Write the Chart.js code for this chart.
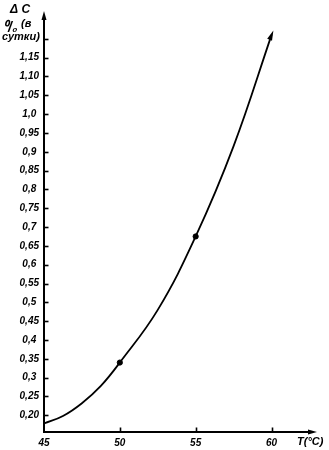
<!DOCTYPE html>
<html>
<head>
<meta charset="utf-8">
<script src="https://cdn.jsdelivr.net/npm/chart.js@4"></script>
<style>
html,body{margin:0;padding:0;background:#fff;}
canvas{display:block;}
</style>
</head>
<body>
<canvas id="c" width="329" height="450"></canvas>
<script>
// Data
const curveT = [45, 46.25, 47.5, 48.75, 50, 52.5, 55, 57.5, 60];
const curveDC = [0.178, 0.198, 0.232, 0.278, 0.34, 0.48, 0.675, 0.915, 1.21];
const markerT = [50, 55];
const markerDC = [0.34, 0.675];
const xTicks = [45, 50, 55, 60];
const xTickLabels = ["45", "50", "55", "60"];
const yTicks = [0.20,0.25,0.30,0.35,0.40,0.45,0.50,0.55,0.60,0.65,0.70,0.75,0.80,0.85,0.90,0.95,1.00,1.05,1.10,1.15,1.20];
const yTickLabels = ["0,20","0,25","0,3","0,35","0,4","0,45","0,5","0,55","0,6","0,65","0,7","0,75","0,8","0,85","0,9","0,95","1,0","1,05","1,10","1,15",""];
const yTitleLines = ["\u0394 C", "\u2070/\u2080 (\u0432", "\u0441\u0443\u0442\u043a\u0438)"];
const xTitle = "T(\u00b0C)";

const FAM = "'Liberation Sans', Arial, sans-serif";

const axesPlugin = {
  id: 'axesPlugin',
  afterDraw(chart) {
    const ctx = chart.ctx;
    const xs = chart.scales.x, ys = chart.scales.y;
    const x0 = xs.left, y0 = ys.bottom, top = ys.top, right = xs.right;
    ctx.save();
    ctx.strokeStyle = '#000';
    ctx.fillStyle = '#000';
    ctx.lineWidth = 2;
    // y axis
    ctx.beginPath(); ctx.moveTo(x0, y0 + 1); ctx.lineTo(x0, top + 6); ctx.stroke();
    ctx.beginPath(); ctx.moveTo(x0, top); ctx.lineTo(x0 - 2.5, top + 9); ctx.lineTo(x0 + 2.5, top + 9); ctx.closePath(); ctx.fill();
    // x axis
    ctx.beginPath(); ctx.moveTo(x0 - 1, y0); ctx.lineTo(right - 6, y0); ctx.stroke();
    ctx.beginPath(); ctx.moveTo(right, y0); ctx.lineTo(right - 9, y0 - 2.5); ctx.lineTo(right - 9, y0 + 2.5); ctx.closePath(); ctx.fill();
    // y ticks (inward)
    ctx.lineWidth = 1.6;
    yTicks.forEach(v => {
      const py = Math.round(ys.getPixelForValue(v)) + 0.5;
      ctx.beginPath(); ctx.moveTo(x0, py); ctx.lineTo(x0 + 4.5, py); ctx.stroke();
    });
    // x ticks (inward)
    xTicks.forEach(v => {
      if (v === xs.min) return;
      const px = Math.round(xs.getPixelForValue(v)) + 0.5;
      ctx.beginPath(); ctx.moveTo(px, y0); ctx.lineTo(px, y0 - 4.5); ctx.stroke();
    });
    // curve arrowhead
    const n = curveT.length;
    const ex = xs.getPixelForValue(curveT[n - 1]), ey = ys.getPixelForValue(curveDC[n - 1]);
    const px = xs.getPixelForValue(curveT[n - 2]), py = ys.getPixelForValue(curveDC[n - 2]);
    const ang = Math.atan2(ey - py, ex - px) + 0.06;
    const tipx = ex + Math.cos(ang) * 5, tipy = ey + Math.sin(ang) * 5;
    ctx.beginPath();
    ctx.moveTo(tipx, tipy);
    ctx.lineTo(tipx - Math.cos(ang) * 10 + Math.sin(ang) * 2.6, tipy - Math.sin(ang) * 10 - Math.cos(ang) * 2.6);
    ctx.lineTo(tipx - Math.cos(ang) * 10 - Math.sin(ang) * 2.6, tipy - Math.sin(ang) * 10 + Math.cos(ang) * 2.6);
    ctx.closePath(); ctx.fill();
    // titles
    ctx.textBaseline = 'middle';
    ctx.textAlign = 'left';
    ctx.font = "italic bold 12px " + FAM;
    ctx.fillText(yTitleLines[0], 10, 10);
    ctx.font = "italic bold 14px " + FAM;
    ctx.fillText(yTitleLines[1].slice(0, 3), 3, 28);
    ctx.font = "italic bold 11px " + FAM;
    ctx.fillText(yTitleLines[1].slice(3), 18, 24);
    ctx.fillText(yTitleLines[2], 2, 37);
    ctx.fillText(xTitle, right - 20, y0 + 10);
    ctx.restore();
  }
};

new Chart(document.getElementById('c'), {
  type: 'line',
  data: {
    datasets: [
      {
        data: curveT.map((t, i) => ({x: t, y: curveDC[i]})),
        borderColor: '#000', borderWidth: 1.8,
        pointRadius: 0, tension: 0.4, fill: false
      },
      {
        type: 'scatter',
        data: markerT.map((t, i) => ({x: t, y: markerDC[i]})),
        backgroundColor: '#000', borderColor: '#000',
        pointRadius: 2.6, showLine: false
      }
    ]
  },
  options: {
    responsive: false,
    animation: false,
    devicePixelRatio: 1,
    layout: { padding: { top: 5, right: 12, left: 0, bottom: 0 } },
    plugins: { legend: { display: false }, tooltip: { enabled: false } },
    scales: {
      x: {
        type: 'linear', min: 45, max: 63,
        grid: { display: false, drawTicks: false, tickLength: 0 }, border: { display: false },
        afterFit(s) { s.height = 18; },
        afterBuildTicks(s) { s.ticks = xTicks.map(v => ({value: v})); },
        ticks: {
          color: '#000', padding: 5, maxRotation: 0, autoSkip: false,
          font: { family: FAM, size: 10, style: 'italic', weight: 'bold' },
          callback(v) { const i = xTicks.indexOf(v); return i >= 0 ? xTickLabels[i] : ''; }
        }
      },
      y: {
        type: 'linear', min: 0.1555, max: 1.274,
        grid: { display: false, drawTicks: false, tickLength: 0 }, border: { display: false },
        afterFit(s) { s.width = 44; },
        afterBuildTicks(s) { s.ticks = yTicks.map(v => ({value: v})); },
        ticks: {
          color: '#000', padding: 5, crossAlign: 'center', autoSkip: false,
          font: { family: FAM, size: 10, style: 'italic', weight: 'bold' },
          callback(v) {
            const i = yTicks.findIndex(t => Math.abs(t - v) < 1e-6);
            return i >= 0 ? yTickLabels[i] : '';
          }
        }
      }
    }
  },
  plugins: [axesPlugin]
});
</script>
</body>
</html>
